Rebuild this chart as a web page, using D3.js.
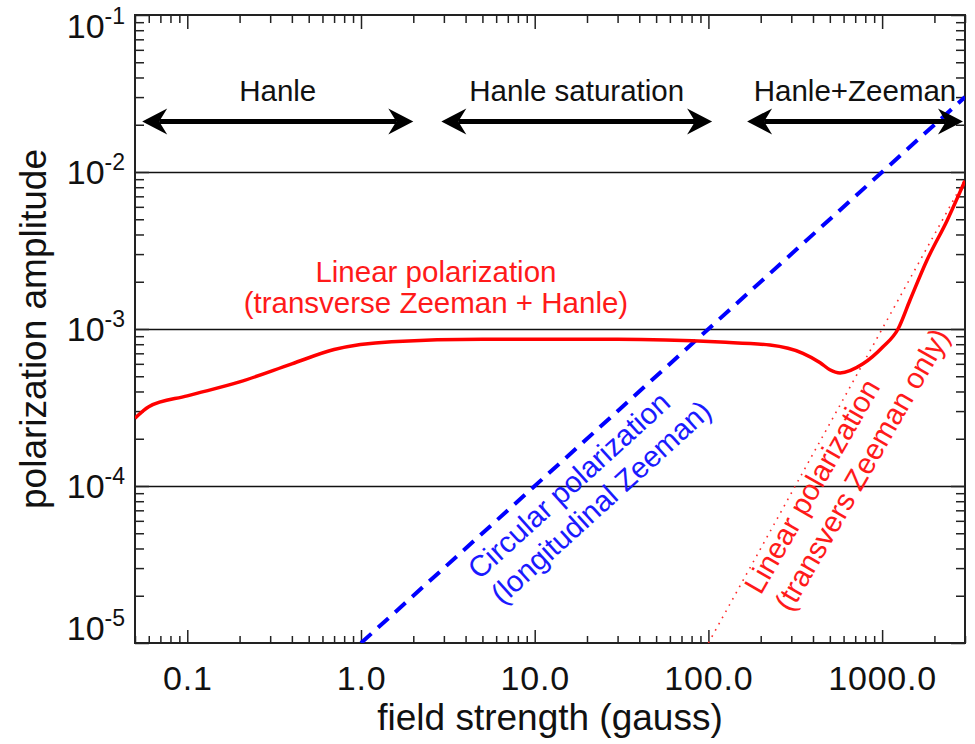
<!DOCTYPE html>
<html>
<head>
<meta charset="utf-8">
<script src="https://cdn.jsdelivr.net/npm/d3@7"></script>
<style>
  body { margin: 0; background: #fff; }
  svg { display: block; font-family: "Liberation Sans", Arial, Helvetica, sans-serif; }
</style>
</head>
<body>
<div id="chart"></div>
<script>
// values (field in gauss, amplitude dimensionless)
var linField = [0.05, 0.06, 0.1, 0.2, 0.4, 0.7, 1.5, 5, 30, 117, 226, 350, 440, 500, 573, 776, 1012, 1235, 1448, 1814, 2364, 3000];
var linAmp   = [2.7e-4, 3.2e-4, 3.75e-4, 4.6e-4, 6.0e-4, 7.4e-4, 8.3e-4, 8.6e-4, 8.6e-4, 8.25e-4, 7.9e-4, 7.0e-4, 6.1e-4, 5.5e-4, 5.25e-4, 6.0e-4, 7.7e-4, 1.0e-3, 1.53e-3, 2.75e-3, 4.9e-3, 8.8e-3];

var circField = [1, 3000];
var circAmp   = [1e-5, 3e-2];

var zeemanField = [100, 3000];
var zeemanAmp   = [1e-5, 9e-3];

var regimeNames = ["Hanle", "Hanle saturation", "Hanle+Zeeman"];
var regimeFrom  = [0.055, 2.9, 167];
var regimeTo    = [2.0, 105, 2920];
var regimeAmp   = 0.021;

var xTickValues = [0.1, 1, 10, 100, 1000];
var xTickLabels = ["0.1", "1.0", "10.0", "100.0", "1000.0"];
var yTickExp    = [-1, -2, -3, -4, -5];
var gridAmp     = [1e-2, 1e-3, 1e-4];

// svg container
var svgWidth = 975, svgHeight = 744;
var margin = { top: 15, right: 10, bottom: 101, left: 135 };
var width = svgWidth - margin.left - margin.right;
var height = svgHeight - margin.top - margin.bottom;

var svg = d3.select("#chart").append("svg")
  .attr("width", svgWidth)
  .attr("height", svgHeight);

var chartGroup = svg.append("g")
  .attr("transform", `translate(${margin.left}, ${margin.top})`);

// scales
var x = d3.scaleLog().domain([0.05, 3000]).range([0, width]);
var y = d3.scaleLog().domain([1e-5, 1e-1]).range([height, 0]);

var isPow = v => Math.abs(Math.log10(v) - Math.round(Math.log10(v))) < 1e-9;
var xMinor = x.ticks().filter(v => !isPow(v));
var yAll = y.ticks();
var yMinor = yAll.filter(v => !isPow(v));
var yMajor = yAll.filter(isPow);

var ink = "#222";

function styleAxis(g) {
  g.select(".domain").remove();
  g.selectAll(".tick line").attr("stroke", ink).attr("stroke-width", 1.5);
}

// gridlines
chartGroup.append("g")
  .call(d3.axisLeft(y).tickValues(gridAmp).tickSize(-width).tickFormat(""))
  .call(g => g.select(".domain").remove())
  .selectAll(".tick line").attr("stroke", "#111").attr("stroke-width", 1.6);

// ticks on all four sides, pointing inward
chartGroup.append("g").attr("transform", `translate(0, ${height})`)
  .call(d3.axisBottom(x).tickValues(xMinor).tickSize(-7).tickFormat("")).call(styleAxis);
var xMajorG = chartGroup.append("g").attr("transform", `translate(0, ${height})`)
  .call(d3.axisBottom(x).tickValues(xTickValues).tickSize(-13).tickFormat((d, i) => xTickLabels[i]))
  .call(styleAxis);
xMajorG.selectAll("text")
  .attr("y", 47).attr("dy", null)
  .attr("fill", "#111")
  .style("font-size", "34px")
  .style("letter-spacing", "0.8px");

chartGroup.append("g")
  .call(d3.axisTop(x).tickValues(xMinor).tickSize(-8).tickFormat("")).call(styleAxis);
chartGroup.append("g")
  .call(d3.axisTop(x).tickValues(xTickValues).tickSize(-14).tickFormat("")).call(styleAxis);

chartGroup.append("g")
  .call(d3.axisLeft(y).tickValues(yMinor).tickSize(-9).tickFormat("")).call(styleAxis);
chartGroup.append("g")
  .call(d3.axisLeft(y).tickValues(yMajor).tickSize(-14).tickFormat("")).call(styleAxis);
chartGroup.append("g").attr("transform", `translate(${width}, 0)`)
  .call(d3.axisRight(y).tickValues(yMinor).tickSize(-9).tickFormat("")).call(styleAxis);
chartGroup.append("g").attr("transform", `translate(${width}, 0)`)
  .call(d3.axisRight(y).tickValues(yMajor).tickSize(-14).tickFormat("")).call(styleAxis);

// y tick labels 10^n
var yLab = chartGroup.selectAll(".ylab")
  .data(yTickExp)
  .enter()
  .append("text")
  .attr("class", "ylab")
  .attr("x", -10)
  .attr("y", d => Math.min(Math.max(y(Math.pow(10, d)), 11), height - 15) + 12)
  .attr("text-anchor", "end")
  .attr("fill", "#111")
  .style("font-size", "34px");
yLab.append("tspan").text("10");
yLab.append("tspan").attr("dy", -14).style("font-size", "23px").text(d => String(d));

// frame
chartGroup.append("rect")
  .attr("width", width).attr("height", height)
  .attr("fill", "none").attr("stroke", ink).attr("stroke-width", 2);

// clip for curves
svg.append("defs").append("clipPath").attr("id", "plotclip")
  .append("rect").attr("width", width).attr("height", height);
var plot = chartGroup.append("g").attr("clip-path", "url(#plotclip)");

var line = d3.line().x(d => x(d[0])).y(d => y(d[1]));

plot.append("path")
  .datum(zeemanField.map((f, i) => [f, zeemanAmp[i]]))
  .attr("d", line)
  .attr("fill", "none").attr("stroke", "#ff2a2a").attr("stroke-width", 1.6)
  .attr("stroke-dasharray", "1.6,5.5");

plot.append("path")
  .datum(circField.map((f, i) => [f, circAmp[i]]))
  .attr("d", line)
  .attr("fill", "none").attr("stroke", "#0000ff").attr("stroke-width", 4)
  .attr("stroke-dasharray", "14,9");

plot.append("path")
  .datum(linField.map((f, i) => [f, linAmp[i]]))
  .attr("d", line.curve(d3.curveMonotoneX))
  .attr("fill", "none").attr("stroke", "#ff0000").attr("stroke-width", 3.5)
  .attr("stroke-linejoin", "round");

// regime arrows
var head = "M0,0 L-25,-13 L-17,0 L-25,13 Z";
var regimes = chartGroup.selectAll(".regime")
  .data(regimeNames)
  .enter()
  .append("g")
  .attr("class", "regime");
regimes.append("line")
  .attr("x1", (d, i) => x(regimeFrom[i]) + 17)
  .attr("x2", (d, i) => x(regimeTo[i]) - 17)
  .attr("y1", y(regimeAmp)).attr("y2", y(regimeAmp))
  .attr("stroke", "#000").attr("stroke-width", 5);
regimes.append("path")
  .attr("d", head)
  .attr("transform", (d, i) => `translate(${x(regimeTo[i])}, ${y(regimeAmp)})`);
regimes.append("path")
  .attr("d", head)
  .attr("transform", (d, i) => `translate(${x(regimeFrom[i])}, ${y(regimeAmp)}) scale(-1, 1)`);
regimes.append("text")
  .attr("x", (d, i) => (x(regimeFrom[i]) + x(regimeTo[i])) / 2)
  .attr("y", y(regimeAmp) - 20)
  .attr("text-anchor", "middle")
  .attr("fill", "#111")
  .style("font-size", "29.5px")
  .text(d => d);

// curve annotations
function note(field, amp, angle, anchor, color, lines, gap) {
  var t = chartGroup.append("text")
    .attr("transform", `translate(${x(field)}, ${y(amp)}) rotate(${angle})`)
    .attr("text-anchor", anchor)
    .attr("fill", color)
    .style("font-size", "29.5px");
  lines.forEach(function(s, i) {
    t.append("tspan").attr("x", 0).attr("y", i * gap).text(s);
  });
}
note(2.7, 2e-3, 0, "middle", "#ff1a1a", ["Linear polarization", "(transverse Zeeman + Hanle)"], 31);
note(4.8, 2.5e-5, -42.3, "start", "#1a1aff", ["Circular polarization", "(longitudinal Zeeman)"], 34);
note(200, 2e-5, -60.1, "start", "#ff1a1a", ["Linear polarization", "(transvers Zeeman only)"], 35);

// axis titles
chartGroup.append("text")
  .attr("x", width / 2)
  .attr("y", height + 87)
  .attr("text-anchor", "middle")
  .attr("fill", "#111")
  .style("font-size", "37px")
  .text("field strength (gauss)");

chartGroup.append("text")
  .attr("transform", "rotate(-90)")
  .attr("x", -height / 2)
  .attr("y", -89)
  .attr("text-anchor", "middle")
  .attr("fill", "#111")
  .style("font-size", "37px")
  .text("polarization amplitude");
</script>
</body>
</html>
